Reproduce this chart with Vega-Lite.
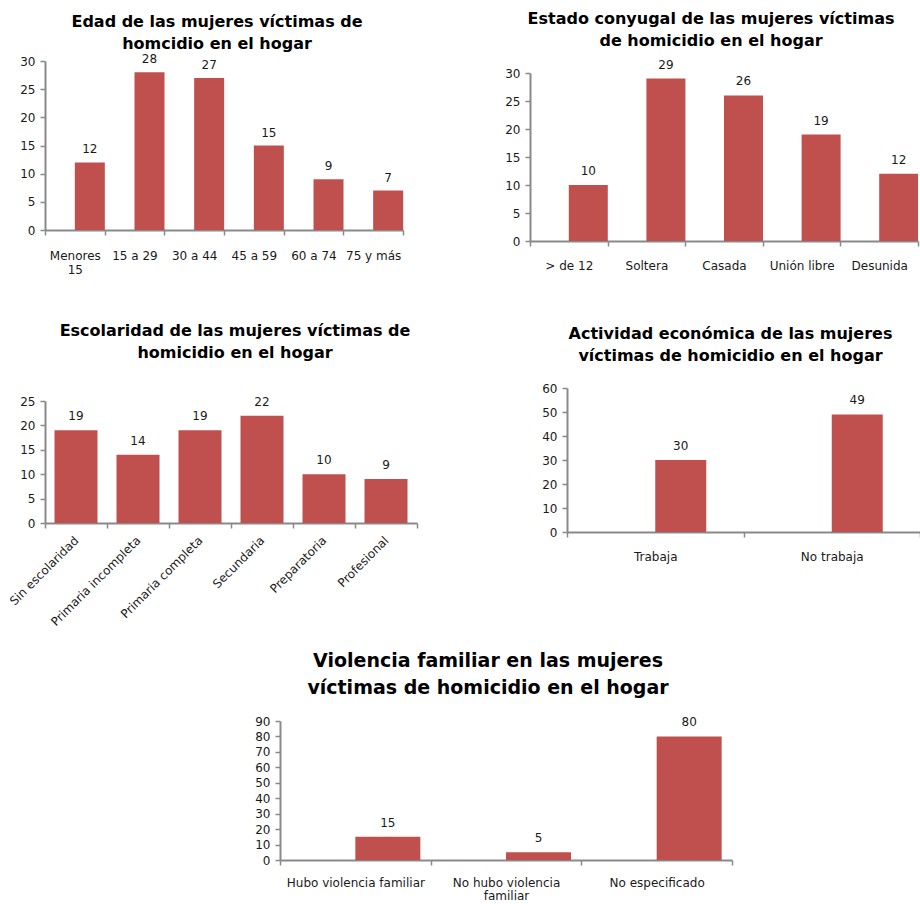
{
  "$schema": "https://vega.github.io/schema/vega-lite/v6.json",
  "background": "white",
  "padding": {"left": 0, "top": 10, "right": 0, "bottom": 0},
  "datasets": {
    "edad": [
      {"cat": "Menores 15", "n": 12},
      {"cat": "15 a 29", "n": 28},
      {"cat": "30 a 44", "n": 27},
      {"cat": "45 a 59", "n": 15},
      {"cat": "60 a 74", "n": 9},
      {"cat": "75 y más", "n": 7}
    ],
    "estado": [
      {"cat": "> de 12", "n": 10},
      {"cat": "Soltera", "n": 29},
      {"cat": "Casada", "n": 26},
      {"cat": "Unión libre", "n": 19},
      {"cat": "Desunida", "n": 12}
    ],
    "escolaridad": [
      {"cat": "Sin escolaridad", "n": 19},
      {"cat": "Primaria incompleta", "n": 14},
      {"cat": "Primaria completa", "n": 19},
      {"cat": "Secundaria", "n": 22},
      {"cat": "Preparatoria", "n": 10},
      {"cat": "Profesional", "n": 9}
    ],
    "actividad": [
      {"cat": "Trabaja", "n": 30},
      {"cat": "No trabaja", "n": 49}
    ],
    "violencia": [
      {"cat": "Hubo violencia familiar", "n": 15},
      {"cat": "No hubo violencia familiar", "n": 5},
      {"cat": "No especificado", "n": 80}
    ]
  },
  "vconcat": [
    {
      "vconcat": [
        {
          "hconcat": [
            {
              "width": 358, "height": 169,
              "title": {"text": ["Edad de las mujeres víctimas de", "homcidio en el hogar"], "offset": 1, "dx": -7},
              "data": {"name": "edad"},
              "encoding": {
                "x": {"field": "cat", "type": "nominal", "sort": null, "title": null,
                  "scale": {"paddingInner": 0, "paddingOuter": 0},
                  "axis": {"labelExpr": "datum.value == 'Menores 15' ? ['Menores', '15'] : datum.value", "labelPadding": 15}},
                "y": {"field": "n", "type": "quantitative", "title": null,
                  "scale": {"domain": [0, 30], "nice": false},
                  "axis": {"values": [0, 5, 10, 15, 20, 25, 30], "minExtent": 45}}
              },
              "layer": [
                {"mark": {"type": "bar", "width": 30, "xOffset": 15}},
                {"mark": {"type": "text", "xOffset": 15, "dy": -13}, "encoding": {"text": {"field": "n"}}}
              ]
            },
            {
              "width": 388, "height": 180,
              "title": {"text": ["Estado conyugal de las mujeres víctimas", "de homicidio en el hogar"], "offset": 10, "dx": -13},
              "data": {"name": "estado"},
              "encoding": {
                "x": {"field": "cat", "type": "nominal", "sort": null, "title": null,
                  "scale": {"paddingInner": 0, "paddingOuter": 0}},
                "y": {"field": "n", "type": "quantitative", "title": null,
                  "scale": {"domain": [0, 30], "nice": false, "range": [180, 12]},
                  "axis": {"values": [0, 5, 10, 15, 20, 25, 30], "minExtent": 126}}
              },
              "layer": [
                {"mark": {"type": "bar", "width": 39, "xOffset": 19.5, "clip": true}},
                {"mark": {"type": "text", "xOffset": 19.5, "dy": -14}, "encoding": {"text": {"field": "n"}}}
              ]
            }
          ],
          "spacing": 0
        },
        {
          "hconcat": [
            {
              "width": 372, "height": 135,
              "title": {"text": ["Escolaridad de las mujeres víctimas de", "homicidio en el hogar"], "offset": 27, "dx": 4},
              "data": {"name": "escolaridad"},
              "encoding": {
                "x": {"field": "cat", "type": "nominal", "sort": null, "title": null,
                  "scale": {"paddingInner": 0, "paddingOuter": 0},
                  "axis": {"labelAngle": -45, "labelAlign": "right", "labelBaseline": "middle", "labelPadding": 10}},
                "y": {"field": "n", "type": "quantitative", "title": null,
                  "scale": {"domain": [0, 25], "nice": false, "range": [135, 13]},
                  "axis": {"values": [0, 5, 10, 15, 20, 25], "minExtent": 45}}
              },
              "layer": [
                {"mark": {"type": "bar", "width": 43}},
                {"mark": {"type": "text", "dy": -14}, "encoding": {"text": {"field": "n"}}}
              ]
            },
            {
              "width": 353, "height": 144,
              "title": {"text": ["Actividad económica de las mujeres", "víctimas de homicidio en el hogar"], "offset": 18, "dx": -13},
              "data": {"name": "actividad"},
              "encoding": {
                "x": {"field": "cat", "type": "nominal", "sort": null, "title": null,
                  "scale": {"paddingInner": 0, "paddingOuter": 0}},
                "y": {"field": "n", "type": "quantitative", "title": null,
                  "scale": {"domain": [0, 60], "nice": false},
                  "axis": {"values": [0, 10, 20, 30, 40, 50, 60], "minExtent": 149}}
              },
              "layer": [
                {"mark": {"type": "bar", "width": 51, "xOffset": 25.5}},
                {"mark": {"type": "text", "xOffset": 25.5, "dy": -14}, "encoding": {"text": {"field": "n"}}}
              ]
            }
          ],
          "spacing": 0
        }
      ],
      "spacing": 48
    },
    {
      "hconcat": [
        {"width": 205, "height": 1, "data": {"values": []}, "mark": "point"},
        {
          "width": 452, "height": 139,
          "title": {"text": ["Violencia familiar en las mujeres", "víctimas de homicidio en el hogar"], "offset": 17, "dx": -18, "fontSize": 19, "lineHeight": 27},
          "data": {"name": "violencia"},
          "encoding": {
            "x": {"field": "cat", "type": "nominal", "sort": null, "title": null,
              "scale": {"paddingInner": 0, "paddingOuter": 0},
              "axis": {"labelExpr": "datum.value == 'No hubo violencia familiar' ? ['No hubo violencia', 'familiar'] : datum.value", "labelPadding": 12, "labelLineHeight": 13}},
            "y": {"field": "n", "type": "quantitative", "title": null,
              "scale": {"domain": [0, 90], "nice": false},
              "axis": {"values": [0, 10, 20, 30, 40, 50, 60, 70, 80, 90], "minExtent": 30}}
          },
          "layer": [
            {"mark": {"type": "bar", "width": 65, "xOffset": 32.5}},
            {"mark": {"type": "text", "xOffset": 32.5, "dy": -14}, "encoding": {"text": {"field": "n"}}}
          ]
        }
      ],
      "spacing": 0
    }
  ],
  "spacing": 24,
  "config": {
    "view": {"stroke": null},
    "axis": {"domainColor": "#898989", "domainWidth": 2, "tickColor": "#898989", "tickWidth": 1.5,
      "labelColor": "#1a1a1a", "labelFont": "DejaVu Sans", "labelFontSize": 12, "grid": false, "maxExtent": 400},
    "axisX": {"tickSize": 5, "tickBand": "extent", "labelAngle": 0, "labelPadding": 14, "labelLineHeight": 14},
    "axisY": {"tickSize": 5, "labelPadding": 5},
    "title": {"font": "DejaVu Sans", "fontSize": 16, "fontWeight": "bold", "color": "#000", "anchor": "middle", "lineHeight": 22},
    "bar": {"color": "#C0504D"},
    "text": {"font": "DejaVu Sans", "fontSize": 12, "color": "#1a1a1a"}
  }
}
